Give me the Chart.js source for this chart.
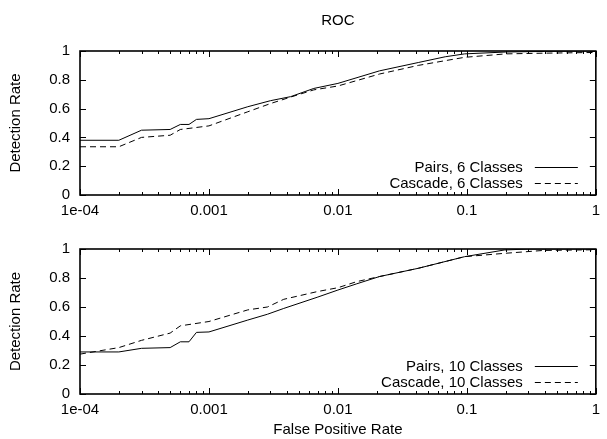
<!DOCTYPE html>
<html>
<head>
<meta charset="utf-8">
<script src="https://cdn.jsdelivr.net/npm/chart.js@4/dist/chart.umd.min.js"></script>
<style>
  html, body { margin: 0; padding: 0; background: #fff; }
  #wrap { position: relative; width: 607px; height: 439px; background: #fff; }
  canvas { position: absolute; left: 0; }
  #c1 { top: 0; }
  #c2 { top: 219px; }
</style>
</head>
<body>
<div id="wrap">
  <canvas id="c1" width="607" height="219"></canvas>
  <canvas id="c2" width="607" height="220"></canvas>
</div>
<script>
// ---------- data ----------
const chartTitle = "ROC";
const xAxisTitle = "False Positive Rate";
const yAxisTitle = "Detection Rate";

const xTickValues = [1e-4, 1e-3, 1e-2, 1e-1, 1];
const xTickLabels = ["1e-04", "0.001", "0.01", "0.1", "1"];
const xMinorMultipliers = [2, 3, 4, 5, 6, 7, 8, 9];
const yTickValues = [0, 0.2, 0.4, 0.6, 0.8, 1];
const yTickLabels = ["0", "0.2", "0.4", "0.6", "0.8", "1"];

// Top panel: 6 classes
const pairs6Label = "Pairs, 6 Classes";
const pairs6X = [1e-4, 2e-4, 3e-4, 5e-4, 6e-4, 7e-4, 8e-4, 1e-3, 2e-3, 3e-3, 4.3e-3, 6.5e-3, 1e-2, 2.1e-2, 4.2e-2, 6.8e-2, 9.6e-2, 0.2, 0.4, 1];
const pairs6Y = [0.38, 0.38, 0.45, 0.455, 0.49, 0.49, 0.525, 0.53, 0.613, 0.655, 0.683, 0.74, 0.775, 0.862, 0.92, 0.96, 0.98, 0.993, 0.997, 1.0];

const cascade6Label = "Cascade, 6 Classes";
const cascade6X = [1e-4, 2e-4, 3e-4, 5e-4, 6e-4, 1e-3, 2e-3, 3e-3, 4.3e-3, 6.5e-3, 1e-2, 2.1e-2, 4.2e-2, 6.8e-2, 9.6e-2, 0.2, 0.4, 1];
const cascade6Y = [0.335, 0.335, 0.40, 0.415, 0.455, 0.48, 0.578, 0.635, 0.68, 0.73, 0.757, 0.84, 0.90, 0.933, 0.956, 0.98, 0.985, 0.99];

// Bottom panel: 10 classes
const pairs10Label = "Pairs, 10 Classes";
const pairs10X = [1e-4, 2e-4, 3e-4, 5e-4, 6e-4, 7e-4, 8e-4, 1e-3, 2e-3, 2.84e-3, 3.8e-3, 6.9e-3, 1e-2, 1.4e-2, 2.1e-2, 4.2e-2, 9.6e-2, 0.195, 0.3, 1];
const pairs10Y = [0.29, 0.29, 0.315, 0.32, 0.36, 0.36, 0.425, 0.428, 0.51, 0.55, 0.59, 0.667, 0.717, 0.76, 0.81, 0.867, 0.947, 0.993, 1.0, 1.0];

const cascade10Label = "Cascade, 10 Classes";
const cascade10X = [1e-4, 2e-4, 3e-4, 5e-4, 6e-4, 1e-3, 2e-3, 2.84e-3, 3.8e-3, 6.9e-3, 1e-2, 1.4e-2, 2.1e-2, 4.2e-2, 9.6e-2, 0.195, 0.39, 1];
const cascade10Y = [0.275, 0.32, 0.37, 0.42, 0.47, 0.50, 0.58, 0.60, 0.653, 0.706, 0.733, 0.775, 0.81, 0.867, 0.947, 0.97, 0.99, 0.995];

// ---------- helpers ----------
const FONT = "'Liberation Sans', Arial, Helvetica, sans-serif";
const FS = 15;
Chart.defaults.font.family = FONT;
Chart.defaults.font.size = FS;
Chart.defaults.color = '#000';

function pts(xs, ys) { return xs.map((x, i) => ({ x: x, y: ys[i] })); }

function lineDs(label, xs, ys, dash) {
  return {
    label: label,
    data: pts(xs, ys),
    borderColor: '#000',
    borderWidth: 1,
    borderDash: dash,
    pointRadius: 0,
    fill: false,
    tension: 0
  };
}

const frameTicks = {
  id: 'frameTicks',
  afterDatasetsDraw(chart) {
    const { ctx, chartArea: a, scales: { x, y } } = chart;
    ctx.save();
    ctx.strokeStyle = '#000';
    ctx.lineWidth = 1;
    const seg = (x1, y1, x2, y2) => { ctx.beginPath(); ctx.moveTo(x1, y1); ctx.lineTo(x2, y2); ctx.stroke(); };
    yTickValues.forEach(v => {
      const p = Math.round(y.getPixelForValue(v)) + 0.5;
      seg(a.left, p, a.left + 6, p);
      seg(a.right, p, a.right - 6, p);
    });
    xTickValues.forEach(v => {
      const p = Math.round(x.getPixelForValue(v)) + 0.5;
      seg(p, a.bottom, p, a.bottom - 6);
      seg(p, a.top, p, a.top + 6);
    });
    xTickValues.slice(0, -1).forEach(d => {
      xMinorMultipliers.forEach(m => {
        const p = Math.round(x.getPixelForValue(d * m)) + 0.5;
        seg(p, a.bottom, p, a.bottom - 3);
        seg(p, a.top, p, a.top + 3);
      });
    });
    ctx.lineWidth = 1.6;
    ctx.strokeRect(a.left, a.top, a.right - a.left, a.bottom - a.top);
    ctx.restore();
  }
};

const keyLegend = {
  id: 'keyLegend',
  afterDatasetsDraw(chart) {
    const { ctx, chartArea: a } = chart;
    ctx.save();
    ctx.font = FS + 'px ' + FONT;
    ctx.fillStyle = '#000';
    ctx.textAlign = 'right';
    ctx.textBaseline = 'middle';
    const n = chart.data.datasets.length;
    chart.data.datasets.forEach((ds, i) => {
      const yy = Math.round(a.bottom - 12 - (n - 1 - i) * 16) + 0.5;
      ctx.fillText(ds.label, a.right - 73, yy);
      ctx.strokeStyle = ds.borderColor;
      ctx.lineWidth = ds.borderWidth;
      ctx.setLineDash(ds.borderDash || []);
      ctx.beginPath();
      ctx.moveTo(a.right - 61, yy);
      ctx.lineTo(a.right - 18, yy);
      ctx.stroke();
      ctx.setLineDash([]);
    });
    ctx.restore();
  }
};

function makeChart(id, datasets, opts) {
  return new Chart(document.getElementById(id), {
    type: 'line',
    data: { datasets: datasets },
    plugins: [frameTicks, keyLegend],
    options: {
      responsive: false,
      animation: false,
      devicePixelRatio: 1,
      layout: { padding: { left: 0, right: 6, top: opts.padTop, bottom: 0 } },
      plugins: {
        legend: { display: false },
        tooltip: { enabled: false },
        title: opts.title ? {
          display: true,
          text: opts.title,
          fullSize: false,
          color: '#000',
          font: { size: FS, weight: 'normal', family: FONT },
          padding: { top: 12, bottom: 21 }
        } : { display: false }
      },
      scales: {
        x: {
          type: 'logarithmic',
          min: 1e-4,
          max: 1,
          grid: { display: false, drawTicks: false },
          border: { display: false },
          afterBuildTicks: s => { s.ticks = xTickValues.map(v => ({ value: v })); },
          afterFit: s => { s.height = opts.xHeight; },
          ticks: {
            padding: 7,
            maxRotation: 0,
            autoSkip: false,
            color: '#000',
            callback: (v, i) => xTickLabels[i]
          },
          title: opts.xTitle ? {
            display: true,
            text: opts.xTitle,
            color: '#000',
            font: { size: FS, family: FONT },
            padding: { top: 0, bottom: 0 }
          } : { display: false }
        },
        y: {
          type: 'linear',
          min: 0,
          max: 1,
          grid: { display: false, drawTicks: false },
          border: { display: false },
          afterBuildTicks: s => { s.ticks = yTickValues.map(v => ({ value: v })); },
          afterFit: s => { s.width = 80; },
          ticks: {
            padding: 10,
            autoSkip: false,
            color: '#000',
            callback: (v, i) => yTickLabels[i]
          },
          title: {
            display: true,
            text: yAxisTitle,
            color: '#000',
            font: { size: FS, family: FONT },
            padding: { top: 7, bottom: 0 }
          }
        }
      }
    }
  });
}

makeChart('c1', [
  lineDs(pairs6Label, pairs6X, pairs6Y, []),
  lineDs(cascade6Label, cascade6X, cascade6Y, [6, 4])
], { title: chartTitle, padTop: 0, xHeight: 24, xTitle: null });

makeChart('c2', [
  lineDs(pairs10Label, pairs10X, pairs10Y, []),
  lineDs(cascade10Label, cascade10X, cascade10Y, [6, 4])
], { title: null, padTop: 30, xHeight: 45, xTitle: xAxisTitle });
</script>
</body>
</html>
